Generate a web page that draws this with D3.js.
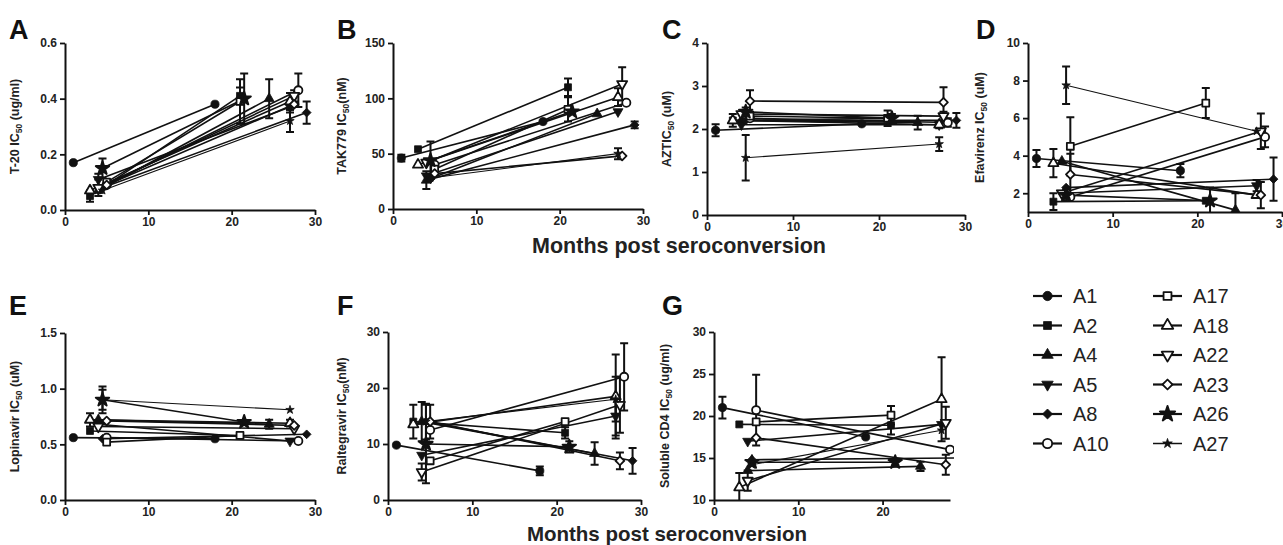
<!DOCTYPE html>
<html lang="en">
<head>
<meta charset="UTF-8">
<title>IC50 over time after seroconversion</title>
<style>
  body { margin: 0; background: #fff; }
  svg { display: block; font-family: "Liberation Sans", Arial, sans-serif; }
</style>
</head>
<body>
<svg id="chart" width="1283" height="545"></svg>
<script src="https://d3js.org/d3.v7.min.js"></script>
<script>
// patients and their two sampling times (months post seroconversion)
const patients = ["A1", "A2", "A4", "A5", "A8", "A10", "A17", "A18", "A22", "A23", "A26", "A27"];
const months = [[1, 18], [3, 21], [4, 24.5], [4, 27], [4.5, 29], [5, 28], [5, 21], [3, 27], [4, 27.5], [5, 27.5], [4.5, 21.5], [4.5, 27]];

// IC50 values [early, late] per patient, and SD for error bars
const t20 = [[0.17, 0.38], [0.05, 0.41], [0.07, 0.40], [0.11, 0.37], [0.08, 0.35], [0.09, 0.43], [0.10, 0.39], [0.07, 0.39], [0.08, 0.41], [0.09, 0.38], [0.15, 0.40], [0.07, 0.32]];
const t20Sd = [[0, 0], [0.02, 0.03], [0, 0.07], [0.02, 0.02], [0, 0.04], [0, 0.06], [0, 0.08], [0, 0.03], [0.03, 0.02], [0, 0], [0.035, 0.09], [0, 0.04]];

const tak779 = [[46, 79], [54, 110], [26, 86], [30, 88], [27, 76], [40, 96], [36, 90], [40, 101], [42, 113], [32, 48], [44, 88], [28, 50]];
const tak779Sd = [[3, 0], [0, 8], [8, 0], [0, 0], [0, 3], [0, 0], [0, 11], [0, 8], [0, 15], [0, 0], [17, 0], [0, 5]];

const azt = [[1.97, 2.12], [2.2, 2.25], [2.2, 2.15], [2.1, 2.1], [2.2, 2.2], [2.25, 2.15], [2.3, 2.25], [2.2, 2.1], [2.35, 2.3], [2.65, 2.62], [2.4, 2.25], [1.33, 1.65]];
const aztSd = [[0.14, 0], [0.15, 0], [0, 0.16], [0, 0], [0, 0.17], [0, 0.1], [0, 0.18], [0, 0.08], [0, 0.1], [0.25, 0.35], [0.1, 0.1], [0.53, 0.16]];

const efavirenz = [[3.85, 3.2], [1.55, 1.6], [3.7, 1.1], [2.0, 2.4], [2.3, 2.75], [1.8, 5.0], [4.5, 6.8], [3.6, 1.9], [2.0, 5.3], [3.0, 1.9], [1.9, 1.6], [7.75, 5.3]];
const efavirenzSd = [[0.45, 0.35], [0.45, 0], [0, 0.9], [0, 0.3], [0, 1.15], [0, 0.55], [1.55, 0.8], [0.75, 0], [0, 0.95], [1.1, 0.7], [0.3, 0.7], [1.0, 0]];

const lopinavir = [[0.56, 0.55], [0.62, 0.58], [0.72, 0.68], [0.68, 0.53], [0.55, 0.59], [0.56, 0.53], [0.52, 0.58], [0.72, 0.69], [0.66, 0.64], [0.71, 0.67], [0.90, 0.70], [0.90, 0.81]];
const lopinavirSd = [[0, 0], [0, 0], [0, 0.04], [0, 0], [0, 0], [0, 0], [0, 0.02], [0.06, 0.03], [0, 0], [0, 0], [0.09, 0], [0.12, 0]];

const raltegravir = [[9.8, 5.2], [14, 12], [14, 8.3], [8, 15], [14, 7], [12.5, 22], [7, 14], [13.5, 18.5], [5, 17], [14, 7], [10, 9.5], [14, 18]];
const raltegravirSd = [[0, 0.8], [3, 1], [3.5, 2], [0, 3.5], [3.2, 2.3], [0, 6], [0, 0], [0, 7.5], [1.5, 5], [3, 1.5], [7, 1], [0, 4]];

const sCD4 = [[21, 17.5], [19, 18.9], [13.5, 14], [17, 19], [14.8, 15], [20.7, 16], [19.3, 20.1], [11.5, 22], [12.3, 19.2], [17.4, 14.2], [14.5, 14.5], [14.2, 18.3]];
const sCD4Sd = [[1.3, 0], [0, 1.1], [0, 0.55], [0, 0], [0, 0], [4.2, 0], [0, 1.1], [1.7, 5], [1.2, 1.9], [0, 1.2], [0, 0], [0, 0]];

const xTicks = [0, 10, 20, 30];

// panel layout
const panels = [
  { letter: "A", vals: t20, sd: t20Sd, yDomain: [0, 0.6], yTicks: [0, 0.2, 0.4, 0.6], fmt: ".1f", title: ["T-20 IC", "50", " (ug/ml)"],
    x0: 65, x1: 315, top: 43, bottom: 210, xMax: 30, titleX: 19, lx: 9, ly: 39 },
  { letter: "B", vals: tak779, sd: tak779Sd, yDomain: [0, 150], yTicks: [0, 50, 100, 150], fmt: "d", title: ["TAK779 IC", "50", "(nM)"],
    x0: 393, x1: 643, top: 43, bottom: 209, xMax: 30, titleX: 346, lx: 337, ly: 39 },
  { letter: "C", vals: azt, sd: aztSd, yDomain: [0, 4], yTicks: [0, 1, 2, 3, 4], fmt: "d", title: ["AZTIC", "50", " (uM)"],
    x0: 707, x1: 965, top: 43, bottom: 215, xMax: 30, titleX: 671, lx: 662, ly: 39 },
  { letter: "D", vals: efavirenz, sd: efavirenzSd, yDomain: [1, 10], yTicks: [2, 4, 6, 8, 10], fmt: "d", title: ["Efavirenz IC", "50", " (uM)"],
    x0: 1028, x1: 1282, top: 43, bottom: 212, xMax: 30, titleX: 984, lx: 976, ly: 39 },
  { letter: "E", vals: lopinavir, sd: lopinavirSd, yDomain: [0, 1.5], yTicks: [0, 0.5, 1.0, 1.5], fmt: ".1f", title: ["Lopinavir IC", "50", " (uM)"],
    x0: 65, x1: 315, top: 333, bottom: 500, xMax: 30, titleX: 19, lx: 9, ly: 315 },
  { letter: "F", vals: raltegravir, sd: raltegravirSd, yDomain: [0, 30], yTicks: [0, 10, 20, 30], fmt: "d", title: ["Raltegravir IC", "50", "(nM)"],
    x0: 388, x1: 641, top: 332, bottom: 500, xMax: 30, titleX: 346, lx: 337, ly: 315 },
  { letter: "G", vals: sCD4, sd: sCD4Sd, yDomain: [10, 30], yTicks: [10, 15, 20, 25, 30], fmt: "d", title: ["Soluble CD4 IC", "50", " (ug/ml)"],
    x0: 714, x1: 950, top: 332, bottom: 500, xMax: 28, titleX: 669, lx: 662, ly: 315 }
];

// marker style per patient (same order as patients)
const rot = [0, 0, 0, 180, 45, 0, 0, 0, 180, 45, 0, 0];
const shapes = [d3.symbolCircle, d3.symbolSquare, d3.symbolTriangle, d3.symbolTriangle, d3.symbolSquare,
  d3.symbolCircle, d3.symbolSquare, d3.symbolTriangle, d3.symbolTriangle, d3.symbolSquare, d3.symbolStar, d3.symbolStar];
const open = [false, false, false, false, false, true, true, true, true, true, false, false];
const sizes = [52, 48, 44, 44, 38, 52, 48, 44, 44, 38, 55, 22];

const svg = d3.select("#chart");

function marker(sel, i, scale) {
  sel.append("path")
    .attr("d", d3.symbol().type(shapes[i]).size(sizes[i] * scale)())
    .attr("transform", d => `translate(${d[0]},${d[1]}) rotate(${rot[i]})`)
    .attr("fill", open[i] ? "#fff" : "#111")
    .attr("stroke", "#111")
    .attr("stroke-width", open[i] ? 1.8 : (i === 10 ? 2 : 0.8))
    .attr("stroke-linejoin", "round");
}

panels.forEach((p, pi) => {
  const x = d3.scaleLinear().domain([0, p.xMax]).range([p.x0, p.x1]);
  const y = d3.scaleLinear().domain(p.yDomain).range([p.bottom, p.top]);
  const g = svg.append("g");

  const clipId = "clip" + pi;
  svg.append("clipPath").attr("id", clipId)
    .append("rect").attr("x", p.x0 - 15).attr("y", p.top - 20)
    .attr("width", p.x1 - p.x0 + (p.xMax === 28 ? 19 : 30)).attr("height", p.bottom - p.top + 20);

  const plot = g.append("g").attr("clip-path", `url(#${clipId})`);

  patients.forEach((name, i) => {
    const pts = months[i].map((m, k) => [x(m), y(p.vals[i][k])]);
    plot.append("path")
      .attr("d", d3.line()(pts))
      .attr("fill", "none")
      .attr("stroke", "#111")
      .attr("stroke-width", i === 11 ? 1.1 : 1.6);

    // error bars
    months[i].forEach((m, k) => {
      const s = p.sd[i][k];
      if (!s) return;
      const cx = x(m), ya = y(p.vals[i][k] + s), yb = y(p.vals[i][k] - s);
      plot.append("path")
        .attr("d", `M${cx},${ya}V${yb}M${cx - 4},${ya}H${cx + 4}M${cx - 4},${yb}H${cx + 4}`)
        .attr("fill", "none").attr("stroke", "#111").attr("stroke-width", 2);
    });
  });

  patients.forEach((name, i) => {
    const pts = months[i].map((m, k) => [x(m), y(p.vals[i][k])]);
    plot.selectAll(null).data(pts).join("g").call(s => marker(s, i, 1));
  });

  // axes
  const xAxis = g.append("g").attr("transform", `translate(0,${p.bottom})`)
    .call(d3.axisBottom(x).tickValues(xTicks.filter(t => t <= p.xMax)).tickSize(5).tickSizeOuter(0).tickPadding(2));
  const yAxis = g.append("g").attr("transform", `translate(${p.x0},0)`)
    .call(d3.axisLeft(y).tickValues(p.yTicks).tickFormat(d3.format(p.fmt)).tickSize(5).tickSizeOuter(0).tickPadding(3));
  [xAxis, yAxis].forEach(a => {
    a.select(".domain").attr("stroke", "#111").attr("stroke-width", 2);
    a.selectAll(".tick line").attr("stroke", "#111").attr("stroke-width", 1.8);
    a.selectAll(".tick text").attr("fill", "#222").attr("font-size", 12).attr("font-weight", "bold")
      .attr("font-family", "Liberation Sans, Arial, sans-serif");
  });

  // y title with subscript
  const t = g.append("text")
    .attr("transform", `translate(${p.titleX},${(p.top + p.bottom) / 2}) rotate(-90)`)
    .attr("text-anchor", "middle")
    .attr("font-size", 12.5).attr("font-weight", "bold").attr("fill", "#222");
  t.append("tspan").text(p.title[0]);
  t.append("tspan").attr("font-size", 8.5).attr("dy", 3).text(p.title[1]);
  t.append("tspan").attr("dy", -3).text(p.title[2]);

  // panel letter
  g.append("text").attr("x", p.lx).attr("y", p.ly)
    .attr("font-size", 27).attr("font-weight", "bold").attr("fill", "#111").text(p.letter);
});

// shared x titles
svg.append("text").attr("x", 679).attr("y", 253).attr("text-anchor", "middle")
  .attr("font-size", 21.5).attr("font-weight", "bold").attr("fill", "#222").text("Months post seroconversion");
svg.append("text").attr("x", 667).attr("y", 541).attr("text-anchor", "middle")
  .attr("font-size", 20.5).attr("font-weight", "bold").attr("fill", "#222").text("Months post seroconversion");

// legend
const legend = svg.append("g");
patients.forEach((name, i) => {
  const col = Math.floor(i / 6), row = i % 6;
  const lx = col === 0 ? 1033 : 1153;
  const cy = 296 + row * 29.5;
  legend.append("line").attr("x1", lx).attr("x2", lx + 29).attr("y1", cy).attr("y2", cy)
    .attr("stroke", "#111").attr("stroke-width", i === 11 ? 1.5 : 2.2);
  legend.append("g").datum([lx + 14.5, cy]).call(s => marker(s, i, 1.3));
  legend.append("text").attr("x", lx + 40).attr("y", cy + 7)
    .attr("font-size", 20).attr("fill", "#222").text(name);
});
</script>
</body>
</html>
